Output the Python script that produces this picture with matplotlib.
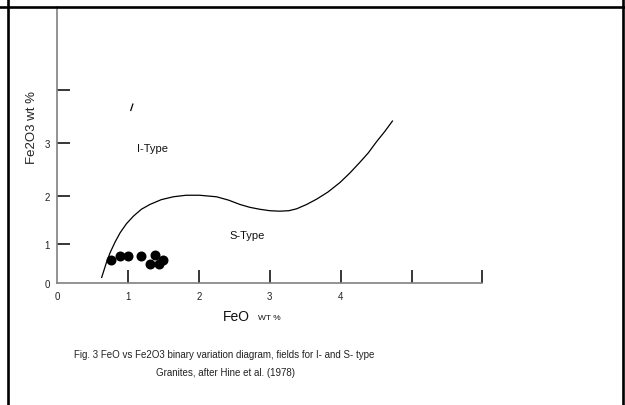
import matplotlib
matplotlib.use("Agg")
import matplotlib.pyplot as plt
import numpy as np
from matplotlib.lines import Line2D

plt.rcParams['font.family'] = ['Liberation Sans', 'DejaVu Sans']

# sample points (FeO, Fe2O3 wt %)
feo = [0.76, 0.89, 1.00, 1.19, 1.38, 1.31, 1.44, 1.50]
fe2o3 = [0.59, 0.70, 0.70, 0.70, 0.72, 0.49, 0.49, 0.59]

# I-type / S-type boundary
bound_x = [0.63, 0.70, 0.75, 0.82, 0.89, 0.98, 1.08, 1.19, 1.31, 1.47,
           1.64, 1.82, 2.01, 2.25, 2.42, 2.58, 2.72, 2.86, 3.00, 3.14,
           3.27, 3.38, 3.52, 3.66, 3.82, 3.99, 4.13, 4.27, 4.39, 4.50,
           4.62, 4.73]
bound_y = [0.15, 0.55, 0.79, 1.05, 1.24, 1.43, 1.59, 1.73, 1.83, 1.93,
           1.99, 2.02, 2.02, 1.99, 1.92, 1.83, 1.77, 1.73, 1.70, 1.69,
           1.70, 1.74, 1.83, 1.94, 2.08, 2.26, 2.44, 2.64, 2.82, 3.02,
           3.22, 3.42]

# stray stroke in the scan
stray_x = [1.04, 1.07]
stray_y = [3.62, 3.74]

xticks = [1, 2, 3, 4, 5, 6]
xlabels_at = [0, 1, 2, 3, 4]
yticks = [0, 1, 2, 3, 4]
ylabels = ['0', '1', '2', '3', '']

# hand drawn y axis: unequal spacing between the ticks (pixels above base)
knots_d = [-1, 0, 1, 2, 3, 4, 6]
knots_p = [-39, 0, 39, 87, 140, 193, 299]


def fwd(v):
    return np.interp(v, knots_d, knots_p)


def inv(p):
    return np.interp(p, knots_p, knots_d)


fig = plt.figure(figsize=(6.25, 4.06), dpi=100)
ax = fig.add_axes([57 / 625, (406 - 284.3) / 406, 425.5 / 625, (284.3 - 8) / 406])
ax.set_yscale('function', functions=(fwd, inv))
ax.set_xlim(0, 6)
ax.set_ylim(0, 5.572)

ax.plot(bound_x, bound_y, color='black', lw=0.9, solid_joinstyle='round')
ax.plot(stray_x, stray_y, color='black', lw=0.9)
ax.plot(feo, fe2o3, 'o', color='black', ms=7.2, mew=0)

ax.text(1.34, 2.92, 'I-Type', fontsize=8, ha='center', va='center', color='#111')
ax.text(2.68, 1.19, 'S-Type', fontsize=8, ha='center', va='center', color='#111')

for s in ['top', 'right']:
    ax.spines[s].set_visible(False)
for s in ['left', 'bottom']:
    ax.spines[s].set_color('#808080')
    ax.spines[s].set_linewidth(1.2)

# ticks drawn inward, labels placed separately below the axis
ax.set_xticks(xticks)
ax.set_xticklabels([])
ax.tick_params(axis='x', direction='in', length=9.4, width=1.1, color='black')
for v in xlabels_at:
    ax.text(v, -0.047, str(v), transform=ax.get_xaxis_transform(),
            fontsize=7, ha='center', va='center', color='#222')
ax.set_yticks(yticks)
ax.set_yticklabels(ylabels, fontsize=7, color='#222')
ax.tick_params(axis='y', direction='in', length=9.4, width=1.1, color='black', pad=5)
ax.yaxis.get_major_ticks()[0].tick1line.set_visible(False)

fig.text(32 / 625, 1 - 127 / 406, 'Fe2O3 wt %', rotation=90,
         fontsize=9.5, ha='center', va='center', color='#222')

fig.text(236 / 625, 1 - 317 / 406, 'FeO', fontsize=10, ha='center', va='center', color='#111')
fig.text(258 / 625, 1 - 318 / 406, 'WT %', fontsize=6, ha='left', va='center', color='#111')

fig.text(224 / 625, 1 - 355 / 406,
         'Fig. 3 FeO vs Fe2O3 binary variation diagram, fields for I- and S- type',
         fontsize=7, ha='center', va='center', color='#222')
fig.text(226 / 625, 1 - 373 / 406, 'Granites, after Hine et al. (1978)',
         fontsize=7, ha='center', va='center', color='#222')

# page frame from the scanned document
fig.add_artist(Line2D([8 / 625, 8 / 625], [0, 1], color='black', lw=1.9,
                      transform=fig.transFigure))
fig.add_artist(Line2D([0, 1], [1 - 8 / 406, 1 - 8 / 406], color='black', lw=1.9,
                      transform=fig.transFigure))
fig.add_artist(Line2D([622.5 / 625, 622.5 / 625], [0, 1], color='black', lw=1.9,
                      transform=fig.transFigure))

fig.savefig('out.png', dpi=100)
